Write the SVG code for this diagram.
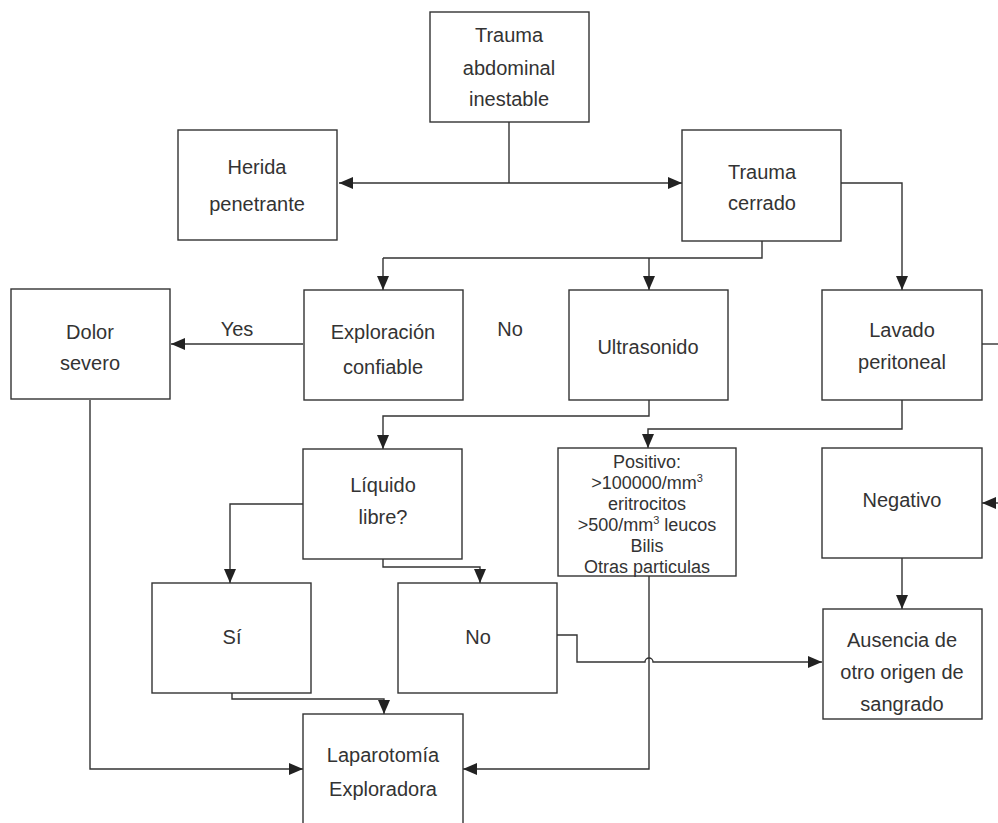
<svg xmlns="http://www.w3.org/2000/svg" width="998" height="823" viewBox="0 0 998 823">
  <defs>
    <marker id="arrow" markerUnits="userSpaceOnUse" markerWidth="14" markerHeight="12" refX="14" refY="6" orient="auto">
      <path d="M0,0 L14,6 L0,12 z" fill="#222"/>
    </marker>
    <style>
      .box { fill: #fff; stroke: #333; stroke-width: 1.4; }
      .lbl { font-family: "Liberation Sans", Arial, sans-serif; font-size: 20px; fill: #333; text-anchor: middle; }
      .sm { font-size: 18px; }
      .sup { font-size: 11px; }
      .wire { fill: none; stroke: #333; stroke-width: 1.4; }
      .arr { marker-end: url(#arrow); }
    </style>
  </defs>
  <rect width="998" height="823" fill="#fff"/>

  <!-- connectors -->
  <g id="connectors">
    <path class="wire" d="M509,122 V183"/>
    <path class="wire arr" d="M509,183 H339"/>
    <path class="wire arr" d="M509,183 H682"/>
    <path class="wire" d="M762,241 V258 H383"/>
    <path class="wire arr" d="M383,258 V290"/>
    <path class="wire arr" d="M649,258 V290"/>
    <path class="wire arr" d="M841,183 H902 V290"/>
    <path class="wire arr" d="M303,344 H171"/>
    <path class="wire" d="M982,344 H998"/>
    <path class="wire arr" d="M998,503 H982"/>
    <path class="wire arr" d="M902,400 V429 H648 V448"/>
    <path class="wire arr" d="M649,400 V416 H383 V449"/>
    <path class="wire arr" d="M303,504 H230 V583"/>
    <path class="wire arr" d="M383,559 V567 H480 V583"/>
    <path class="wire arr" d="M557,635 H577 V662 H645 A4,4 0 0 1 653,662 H822"/>
    <path class="wire arr" d="M232,693 V699 H384 V714"/>
    <path class="wire arr" d="M90,400 V769 H303"/>
    <path class="wire arr" d="M649,576 V769 H463"/>
    <path class="wire arr" d="M902,558 V609"/>
  </g>

  <!-- edge labels -->
  <text class="lbl" x="237" y="336">Yes</text>
  <text class="lbl" x="510" y="336">No</text>

  <g id="n-trauma-inestable">
    <rect class="box" x="430" y="12" width="159" height="110"/>
    <text class="lbl" x="509" y="42">Trauma</text>
    <text class="lbl" x="509" y="75">abdominal</text>
    <text class="lbl" x="509" y="106">inestable</text>
  </g>

  <g id="n-herida">
    <rect class="box" x="178" y="130" width="159" height="110"/>
    <text class="lbl" x="257" y="174">Herida</text>
    <text class="lbl" x="257" y="211">penetrante</text>
  </g>

  <g id="n-trauma-cerrado">
    <rect class="box" x="682" y="130" width="159" height="111"/>
    <text class="lbl" x="762" y="179">Trauma</text>
    <text class="lbl" x="762" y="210">cerrado</text>
  </g>

  <g id="n-dolor">
    <rect class="box" x="11" y="289" width="159" height="110"/>
    <text class="lbl" x="90" y="339">Dolor</text>
    <text class="lbl" x="90" y="370">severo</text>
  </g>

  <g id="n-exploracion">
    <rect class="box" x="304" y="290" width="159" height="110"/>
    <text class="lbl" x="383" y="339">Exploración</text>
    <text class="lbl" x="383" y="374">confiable</text>
  </g>

  <g id="n-ultrasonido">
    <rect class="box" x="569" y="290" width="159" height="110"/>
    <text class="lbl" x="648" y="354">Ultrasonido</text>
  </g>

  <g id="n-lavado">
    <rect class="box" x="822" y="290" width="160" height="110"/>
    <text class="lbl" x="902" y="337">Lavado</text>
    <text class="lbl" x="902" y="369">peritoneal</text>
  </g>

  <g id="n-liquido">
    <rect class="box" x="303" y="449" width="159" height="110"/>
    <text class="lbl" x="383" y="492">Líquido</text>
    <text class="lbl" x="383" y="524">libre?</text>
  </g>

  <g id="n-positivo">
    <rect class="box" x="558" y="448" width="178" height="128"/>
    <text class="lbl sm" x="647" y="468">Positivo:</text>
    <text class="lbl sm" x="647" y="489">&gt;100000/mm<tspan class="sup" dy="-7">3</tspan></text>
    <text class="lbl sm" x="647" y="510">eritrocitos</text>
    <text class="lbl sm" x="647" y="531">&gt;500/mm<tspan class="sup" dy="-7">3</tspan><tspan dy="7"> leucos</tspan></text>
    <text class="lbl sm" x="647" y="552">Bilis</text>
    <text class="lbl sm" x="647" y="573">Otras particulas</text>
  </g>

  <g id="n-negativo">
    <rect class="box" x="822" y="448" width="160" height="110"/>
    <text class="lbl" x="902" y="507">Negativo</text>
  </g>

  <g id="n-si">
    <rect class="box" x="152" y="583" width="159" height="110"/>
    <text class="lbl" x="232" y="644">Sí</text>
  </g>

  <g id="n-no">
    <rect class="box" x="398" y="583" width="159" height="110"/>
    <text class="lbl" x="478" y="644">No</text>
  </g>

  <g id="n-ausencia">
    <rect class="box" x="823" y="609" width="159" height="110"/>
    <text class="lbl" x="902" y="647">Ausencia de</text>
    <text class="lbl" x="902" y="679">otro origen de</text>
    <text class="lbl" x="902" y="711">sangrado</text>
  </g>

  <g id="n-laparotomia">
    <rect class="box" x="303" y="714" width="160" height="130"/>
    <text class="lbl" x="383" y="762">Laparotomía</text>
    <text class="lbl" x="383" y="796">Exploradora</text>
  </g>
</svg>
